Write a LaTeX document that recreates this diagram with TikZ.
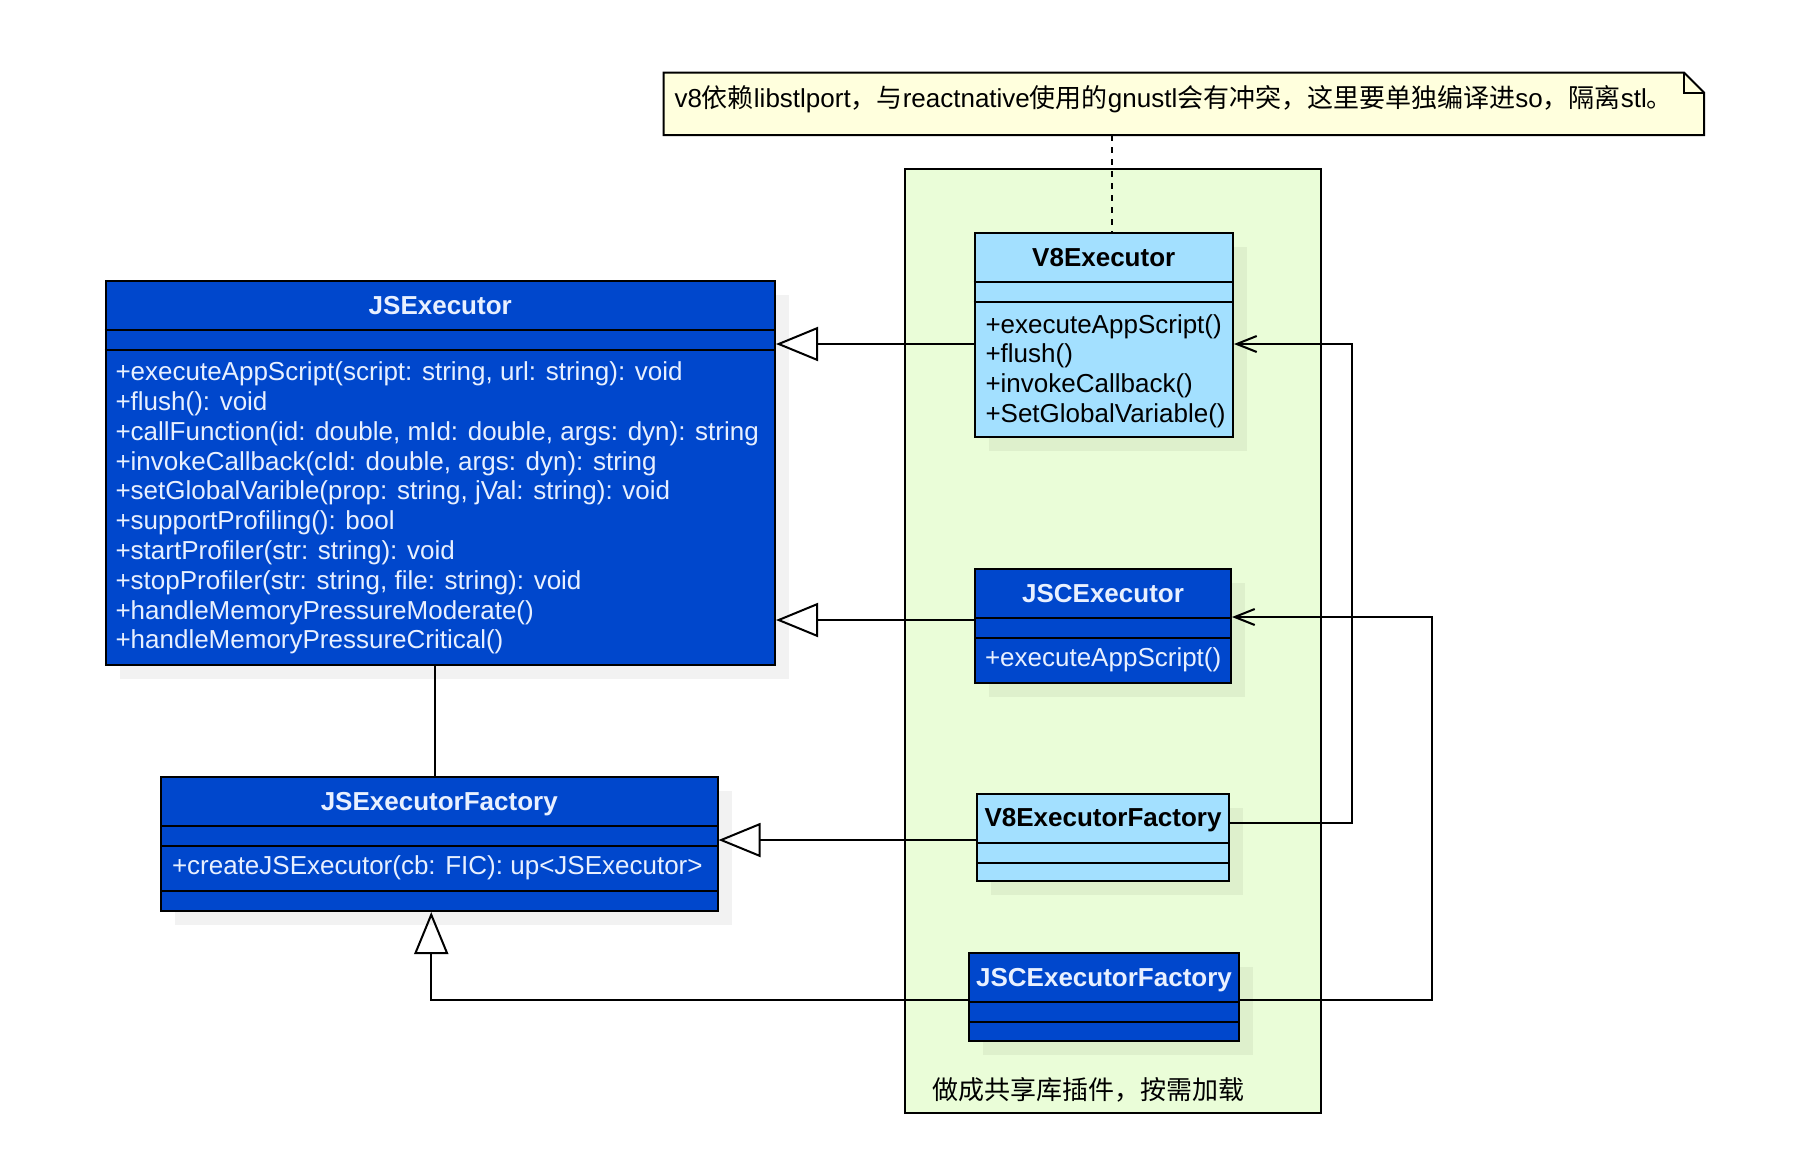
\documentclass[tikz,border=0pt]{standalone}
\usepackage{fontspec}
\setmainfont{Liberation Sans}
\newfontfamily\cjk{Noto Sans CJK SC}
\usepackage{tikz}
\usetikzlibrary{positioning, calc}
\usetikzlibrary{arrows.meta}
\usetikzlibrary{shadows}

\definecolor{jsblue}{RGB}{0,71,204}
\definecolor{jstext}{RGB}{232,240,255}
\definecolor{v8blue}{RGB}{163,224,255}
\definecolor{pkggreen}{RGB}{234,253,216}
\definecolor{noteyellow}{RGB}{255,255,221}

\begin{document}
\begin{tikzpicture}[x=1pt,y=-1pt,line width=2pt,draw=black!100]

	\def \hdr{50pt}
	\def \att{70pt}
	\tikzstyle{cls}=[draw,rectangle,anchor=north west,inner sep=0pt,
		drop shadow={shadow xshift=14pt,shadow yshift=-14pt,fill=black,opacity=0.05}]
	\tikzstyle{js}=[cls,fill=jsblue]
	\tikzstyle{v8}=[cls,fill=v8blue]
	\tikzstyle{ctitle}=[font=\fontsize{26}{30}\selectfont\bfseries,inner sep=0pt,anchor=base]
	\tikzstyle{cmeth}=[font=\fontsize{26}{29.8}\selectfont,align=left,anchor=west,inner sep=0pt]
	\tikzstyle{cmeth1}=[font=\fontsize{26}{29.8}\selectfont,anchor=base west,inner sep=0pt]
	\tikzstyle{gen}=[-{Triangle[open,length=42pt,width=34pt]}]
	\tikzstyle{dep}=[-{Straight Barb[length=20pt,width=16pt]}]
	\tikzstyle{notelink}=[dash pattern=on 6pt off 6pt]

	\useasboundingbox (0,0) rectangle (1820,1173);

	% shared library package
	\node[draw,fill=pkggreen,anchor=north west,minimum width=415.5pt,minimum height=944pt] (pkg) at (904,168) {};
	\node[anchor=west,inner sep=0pt,font=\fontsize{26}{30}\selectfont\cjk] (pkglabel) at ([xshift=27pt,yshift=24pt]pkg.south west) {做成共享库插件，按需加载};

	% note
	\node[anchor=north west,minimum width=1038.5pt,minimum height=60.5pt] (note) at (663.5,72.5) {};
	\filldraw[fill=noteyellow] (note.south west) -- (note.north west) -- ([xshift=-20pt]note.north east)
		-- ([yshift=-20pt]note.north east) -- (note.south east) -- cycle;
	\draw ([xshift=-20pt]note.north east) -- ([xshift=-20pt,yshift=-20pt]note.north east) -- ([yshift=-20pt]note.north east);
	\node[anchor=base west,inner sep=0pt,font=\fontsize{26}{30}\selectfont] (note-t) at ([xshift=10pt,yshift=-34.5pt]note.north west)
		{v8{\cjk 依赖}libstlport{\cjk ，与}reactnative{\cjk 使用的}gnustl{\cjk 会有冲突，这里要单独编译进}so{\cjk ，隔离}stl{\cjk 。}};

	% classes
	\node[js,minimum width=669.5pt,minimum height=384pt] (jsexec) at (104.5,280) {};
	\node[v8,minimum width=258.5pt,minimum height=204pt] (v8exec) at (973.5,232) {};
	\node[js,minimum width=256pt,minimum height=114pt] (jscexec) at (974,568) {};
	\node[js,minimum width=556.5pt,minimum height=134pt] (jsfact) at (160,776) {};
	\node[v8,minimum width=252pt,minimum height=87.5pt] (v8fact) at (976,792.5) {};
	\node[js,minimum width=270pt,minimum height=88pt] (jscfact) at (968,952) {};

	% compartments
	\foreach \c in {jsexec,v8exec,jscexec,jsfact,v8fact,jscfact} {
		\draw ([yshift=-\hdr]\c.north west) -- ([yshift=-\hdr]\c.north east);
		\draw ([yshift=-\att]\c.north west) -- ([yshift=-\att]\c.north east);
	}
	\draw ([yshift=-115pt]jsfact.north west) -- ([yshift=-115pt]jsfact.north east);

	% titles
	\node[ctitle,text=jstext] (jsexec-t) at ([yshift=-34pt]jsexec.north) {JSExecutor};
	\node[ctitle] (v8exec-t) at ([yshift=-34pt]v8exec.north) {V8Executor};
	\node[ctitle,text=jstext] (jscexec-t) at ([yshift=-34pt]jscexec.north) {JSCExecutor};
	\node[ctitle,text=jstext] (jsfact-t) at ([yshift=-34pt]jsfact.north) {JSExecutorFactory};
	\node[ctitle] (v8fact-t) at ([yshift=-34pt]v8fact.north) {V8ExecutorFactory};
	\node[ctitle,text=jstext] (jscfact-t) at ([yshift=-34pt]jscfact.north) {JSCExecutorFactory};

	% operations
	\node[cmeth,text=jstext] (jsexec-m) at ([xshift=10pt,yshift=-228pt]jsexec.north west) {+executeAppScript(script: string, url: string): void\\
		+flush(): void\\
		+callFunction(id: double, mId: double, args: dyn): string\\
		+invokeCallback(cId: double, args: dyn): string\\
		+setGlobalVarible(prop: string, jVal: string): void\\
		+supportProfiling(): bool\\
		+startProfiler(str: string): void\\
		+stopProfiler(str: string, file: string): void\\
		+handleMemoryPressureModerate()\\
		+handleMemoryPressureCritical()};
	\node[cmeth] (v8exec-m) at ([xshift=11pt,yshift=-139pt]v8exec.north west) {+executeAppScript()\\
		+flush()\\
		+invokeCallback()\\
		+SetGlobalVariable()};
	\node[cmeth1,text=jstext] (jscexec-m) at ([xshift=10pt,yshift=-98pt]jscexec.north west) {+executeAppScript()};
	\node[cmeth1,text=jstext] (jsfact-m) at ([xshift=11pt,yshift=-98.5pt]jsfact.north west) {+createJSExecutor(cb: FIC): up<JSExecutor>};

	% generalizations
	\draw[gen] (v8exec.west |- 0,344) -- (jsexec.east |- 0,344);
	\draw[gen] (jscexec.west |- 0,620) -- (jsexec.east |- 0,620);
	\draw[gen] (v8fact.west |- 0,840) -- (jsfact.east |- 0,840);
	\draw[gen] (jscfact.west |- 0,1000) -| ([xshift=-8pt]jsfact.south);
	% association
	\draw ([xshift=-5pt]jsexec.south) -- ([xshift=-5pt]jsexec.south |- jsfact.north);
	% dependencies
	\draw[dep] (v8fact.east |- 0,823) -| (1352,344) -- (v8exec.east |- 0,344);
	\draw[dep] (jscfact.east |- 0,1000) -| (1432,617) -- (jscexec.east |- 0,617);
	% note link
	\draw[notelink] (note.south -| 1112,0) -- (v8exec.north -| 1112,0);
\end{tikzpicture}
\end{document}
